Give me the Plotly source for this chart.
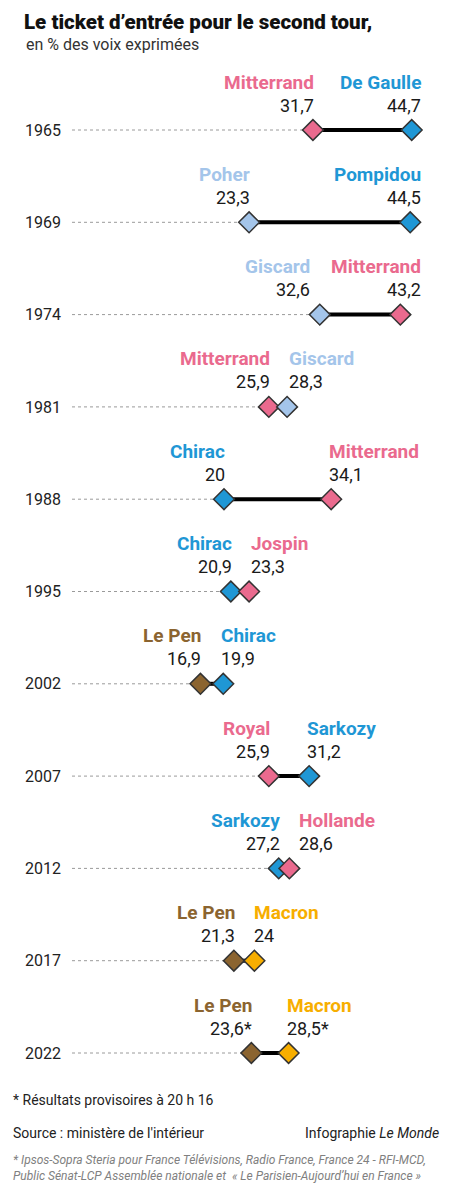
import plotly.graph_objects as go

# the page adds an 8px body margin, so the figure is drawn 8px in from the corner
OFF = 8
W, H = 450 - OFF, 1200 - OFF

# data (lower score first on each row)
years = ['1965', '1969', '1974', '1981', '1988', '1995', '2002', '2007', '2012', '2017', '2022']
low_names = ['Mitterrand', 'Poher', 'Giscard', 'Mitterrand', 'Chirac', 'Chirac',
             'Le Pen', 'Royal', 'Sarkozy', 'Le Pen', 'Le Pen']
low_values = [31.7, 23.3, 32.6, 25.9, 20, 20.9, 16.9, 25.9, 27.2, 21.3, 23.6]
high_names = ['De Gaulle', 'Pompidou', 'Mitterrand', 'Giscard', 'Mitterrand', 'Jospin',
              'Chirac', 'Sarkozy', 'Hollande', 'Macron', 'Macron']
high_values = [44.7, 44.5, 43.2, 28.3, 34.1, 23.3, 19.9, 31.2, 28.6, 24, 28.5]
provisional = [False] * 10 + [True]

pink = '#ea6a8e'
blue = '#1f97d5'
light_blue = '#a4c5ea'
brown = '#8b6430'
orange = '#f7ae00'
colors = {
    'De Gaulle': blue, 'Pompidou': blue, 'Chirac': blue, 'Sarkozy': blue,
    'Mitterrand': pink, 'Jospin': pink, 'Royal': pink, 'Hollande': pink,
    'Poher': light_blue, 'Giscard': light_blue,
    'Le Pen': brown, 'Macron': orange,
}

FONT = 'Roboto'
NAME_SIZE = 19
VALUE_SIZE = 18
XRANGE = 46.6
XMAX = 46.2
x0, scale = 72, 7.6          # page px of x=0, px per point
row0, step = 130, 92.3       # page px of first row, px between rows


def fmt(v, star):
    s = ('%g' % v).replace('.', ',')
    return s + '*' if star else s


fig = go.Figure()

# dotted guide from 0 to the first candidate, then solid gap line
for i, y in enumerate(years):
    fig.add_trace(go.Scatter(
        x=[0, low_values[i]], y=[y, y], mode='lines',
        line=dict(color='#9a9a9a', width=1, dash='dot'),
        hoverinfo='skip', showlegend=False))
    fig.add_trace(go.Scatter(
        x=[low_values[i], high_values[i]], y=[y, y], mode='lines',
        line=dict(color='black', width=4),
        hoverinfo='skip', showlegend=False))

fig.add_trace(go.Scatter(
    x=low_values + high_values, y=years + years, mode='markers',
    marker=dict(symbol='diamond', size=16,
                color=[colors[n] for n in low_names + high_names],
                line=dict(color='#333333', width=1.5)),
    showlegend=False))


def label_pair(i, x, anchor, xs, name, value):
    f_name = dict(family=FONT, size=NAME_SIZE, color=colors[name], weight='bold')
    f_val = dict(family=FONT, size=VALUE_SIZE, color='#1a1a1a')
    return [dict(x=x, y=i, xref='x', yref='y', text=txt, showarrow=False,
                 xanchor=anchor, yanchor='middle', xshift=xs, yshift=ys, font=f)
            for txt, ys, f in [(name, 48, f_name), (value, 25, f_val)]]


annotations = []
for i, y in enumerate(years):
    lo, hi = low_values[i], high_values[i]
    gap_px = (hi - lo) * scale
    if hi > 40:
        # pinned to the right edge of the chart
        hi_x, hi_anchor, hi_shift = XMAX, 'right', 0
        hi_left = (XMAX - lo) * scale - len(high_names[i]) * 0.5 * NAME_SIZE
        lo_shift = min(3, hi_left - 16)
    else:
        lo_shift = 3
        hi_x, hi_anchor = hi, 'left'
        hi_shift = max(-4, lo_shift + 15 - gap_px)
    annotations += label_pair(i, lo, 'right', lo_shift, low_names[i], fmt(lo, provisional[i]))
    annotations += label_pair(i, hi_x, hi_anchor, hi_shift, high_names[i], fmt(hi, provisional[i]))


def px(p):
    return (p - OFF) / W


def py(p):
    return 1 - (p - OFF) / H


# titles and footer
notes = [
    dict(x=px(22), y=1, yanchor='top', text="Le ticket d’entrée pour le second tour,",
         font=dict(family=FONT, size=20.5, color='#111', weight=900)),
    dict(x=px(24), y=py(44), text='en % des voix exprimées',
         font=dict(family=FONT, size=16, color='#333')),
    dict(x=px(11), y=py(1100), text='* Résultats provisoires à 20 h 16',
         font=dict(family=FONT, size=14, color='#222')),
    dict(x=px(11), y=py(1133), text="Source : ministère de l'intérieur",
         font=dict(family=FONT, size=14, color='#222')),
    dict(x=px(441), y=py(1133), text='Infographie <i>Le Monde</i>', xanchor='right',
         font=dict(family=FONT, size=14, color='#222')),
    dict(x=px(11), y=py(1160),
         text='<i>* Ipsos-Sopra Steria pour France Télévisions, Radio France, France 24 - RFI-MCD,</i>',
         font=dict(family=FONT, size=12, color='#808080')),
    dict(x=px(11), y=py(1176),
         text='<i>Public Sénat-LCP Assemblée nationale et  « Le Parisien-Aujourd’hui en France »</i>',
         font=dict(family=FONT, size=12, color='#808080')),
]
for a in notes:
    a.update(xref='paper', yref='paper', showarrow=False)
    a.setdefault('yanchor', 'middle')
    a.setdefault('xanchor', 'left')
annotations += notes

fig.update_layout(
    width=W, height=H,
    margin=dict(l=0, r=0, t=0, b=0),
    paper_bgcolor='white', plot_bgcolor='white',
    annotations=annotations,
    xaxis=dict(range=[0, XRANGE], domain=[px(x0), px(x0 + XRANGE * scale)],
               visible=False, fixedrange=True),
    yaxis=dict(type='category', categoryorder='array', categoryarray=years,
               range=[10.6, -0.6],
               domain=[py(row0 + 10.6 * step), py(row0 - 0.6 * step)],
               showgrid=False, zeroline=False, showline=False, ticks='',
               ticklabelstandoff=10,
               tickfont=dict(family=FONT, size=16, color='#222'),
               fixedrange=True),
)

fig.write_html('out.html')
